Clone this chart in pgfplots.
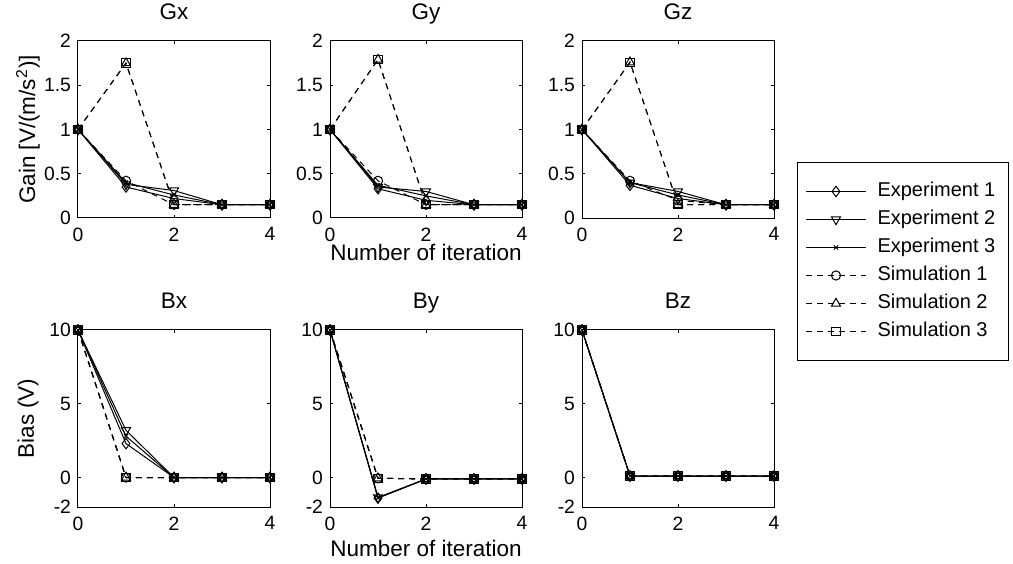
\documentclass[border=0pt]{standalone}
\usepackage{fontspec}
\setmainfont{Liberation Sans}
\usepackage{pgfplots}
\pgfplotsset{compat=1.18}
\usepackage{pgfplotstable}

\pgfplotstableread{
it E1 E2 E3 S1 S2 S3
0 1 1 1 1 1 1
1 0.35 0.38 0.40 0.42 1.75 1.75
2 0.22 0.31 0.26 0.15 0.15 0.15
3 0.15 0.15 0.15 0.15 0.15 0.15
4 0.15 0.15 0.15 0.15 0.15 0.15
}\tGx
\pgfplotstableread{
it E1 E2 E3 S1 S2 S3
0 1 1 1 1 1 1
1 0.33 0.35 0.37 0.42 1.79 1.79
2 0.20 0.30 0.25 0.15 0.15 0.15
3 0.15 0.15 0.15 0.15 0.15 0.15
4 0.15 0.15 0.15 0.15 0.15 0.15
}\tGy
\pgfplotstableread{
it E1 E2 E3 S1 S2 S3
0 1 1 1 1 1 1
1 0.37 0.40 0.40 0.42 1.76 1.76
2 0.22 0.30 0.26 0.20 0.15 0.15
3 0.15 0.15 0.15 0.15 0.15 0.15
4 0.15 0.15 0.15 0.15 0.15 0.15
}\tGz
\pgfplotstableread{
it E1 E2 E3 S1 S2 S3
0 10 10 10 10 10 10
1 2.3 3.2 2.8 0 0 0
2 0 0 0 0 0 0
3 0 0 0 0 0 0
4 0 0 0 0 0 0
}\tBx
\pgfplotstableread{
it E1 E2 E3 S1 S2 S3
0 10 10 10 10 10 10
1 -1.4 -1.35 -1.38 -0.05 -0.05 -0.05
2 -0.1 -0.1 -0.1 -0.1 -0.1 -0.1
3 -0.1 -0.1 -0.1 -0.1 -0.1 -0.1
4 -0.1 -0.1 -0.1 -0.1 -0.1 -0.1
}\tBy
\pgfplotstableread{
it E1 E2 E3 S1 S2 S3
0 10 10 10 10 10 10
1 0.1 0.1 0.1 0.1 0.1 0.1
2 0.1 0.1 0.1 0.1 0.1 0.1
3 0.1 0.1 0.1 0.1 0.1 0.1
4 0.1 0.1 0.1 0.1 0.1 0.1
}\tBz

\newcommand\tickfont{\fontsize{9.65pt}{11pt}\selectfont}
\newcommand\legfont{\fontsize{10pt}{12pt}\selectfont}
\newcommand\labfont{\fontsize{11.25pt}{13pt}\selectfont}

\pgfplotsset{
  sub/.style={scale only axis, width=96pt, height=88.5pt, anchor=south west,
    xmin=0, xmax=4, xtick={0,2,4}, xticklabels={0,2,4}, clip=false,
    tick align=inside, major tick length=1.5pt, tick pos=both,
    axis line style={line width=0.5pt, black},
    every tick/.style={black, line width=0.5pt},
    tick label style={font=\tickfont},
    xticklabel style={yshift=-1.3pt},
    title style={font=\labfont, at={([yshift=4.5pt]axis description cs:0.5,1)}, anchor=base},
    label style={font=\labfont},
    xlabel style={at={([yshift=-20.5pt]axis description cs:0.5,0)}, anchor=center},
    ylabel style={at={([xshift=-25pt]axis description cs:0,0.5)}, anchor=center},
  },
  gain/.style={sub, ymin=0, ymax=2, ytick={0,0.5,1,1.5,2}, yticklabels={0,0.5,1,1.5,2}},
  bias/.style={sub, ymin=-2, ymax=10, ytick={-2,0,5,10}, yticklabels={-2,0,5,10}},
  e1/.style={black, line width=0.5pt, mark=diamond, mark size=2.6pt, mark options={solid}},
  e2/.style={black, line width=0.5pt, mark=triangle, mark size=2.6pt, mark options={solid, rotate=180}},
  e3/.style={black, line width=0.5pt, mark=x, mark size=1.5pt, mark options={solid}},
  s1/.style={black, line width=0.5pt, dash pattern=on 3pt off 2.5pt, mark=o, mark size=2.3pt, mark options={solid}},
  s2/.style={black, line width=0.5pt, dash pattern=on 3pt off 2.5pt, mark=triangle, mark size=2.6pt, mark options={solid}},
  s3/.style={black, line width=0.5pt, dash pattern=on 3pt off 2.5pt, mark=square, mark size=2.1pt, mark options={solid}},
}

\newcommand\sixplots[1]{%
  \addplot[e1] table[x=it,y=E1]{#1};
  \addplot[e2] table[x=it,y=E2]{#1};
  \addplot[e3] table[x=it,y=E3]{#1};
  \addplot[s1] table[x=it,y=S1]{#1};
  \addplot[s2] table[x=it,y=S2]{#1};
  \addplot[s3] table[x=it,y=S3]{#1};
}

\begin{document}
\begin{tikzpicture}
\path[use as bounding box] (0,0) rectangle (506.5pt,281.5pt);

\begin{axis}[gain, at={(39pt,172.5pt)}, title={Gx}, ylabel={Gain [V/(m/s\textsuperscript{2})]}]
\sixplots{\tGx}
\end{axis}

\begin{axis}[gain, at={(165pt,172.5pt)}, title={Gy}, xlabel={Number of iteration},
  xlabel style={at={([yshift=-17pt]axis description cs:0.5,0)}}]
\sixplots{\tGy}
\end{axis}

\begin{axis}[gain, at={(291pt,172.5pt)}, title={Gz},
  legend style={at={(1.1198,0.3164)}, anchor=north west, draw=black, line width=0.5pt,
    font=\legfont, inner xsep=4pt, inner ysep=7.5pt, row sep=0pt, column sep=3pt,
    nodes={inner xsep=2.5pt, inner ysep=2.5pt, text height=7pt, text depth=2pt}},
  legend cell align=left,
  legend image code/.code={\draw[mark repeat=2, mark phase=2, #1] plot coordinates {(0pt,0pt) (15pt,0pt) (30pt,0pt)};}]
\sixplots{\tGz}
\legend{Experiment 1, Experiment 2, Experiment 3, Simulation 1, Simulation 2, Simulation 3}
\end{axis}

\begin{axis}[bias, at={(39pt,28pt)}, title={Bx}, ylabel={Bias (V)}]
\sixplots{\tBx}
\end{axis}

\begin{axis}[bias, at={(165pt,28pt)}, title={By}, xlabel={Number of iteration}]
\sixplots{\tBy}
\end{axis}

\begin{axis}[bias, at={(291pt,28pt)}, title={Bz}]
\sixplots{\tBz}
\end{axis}
\end{tikzpicture}
\end{document}
